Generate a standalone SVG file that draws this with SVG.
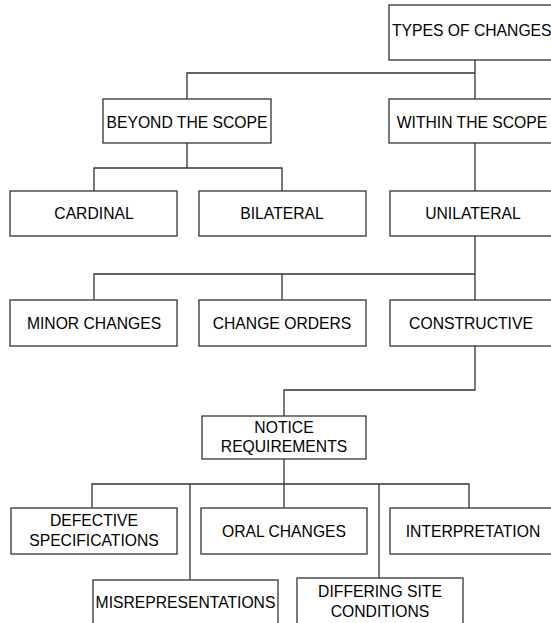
<svg xmlns="http://www.w3.org/2000/svg" width="551" height="623" viewBox="0 0 551 623">
<style>
.box{fill:#fff;stroke:#333;stroke-width:1.3}
.lbl{font-family:"Liberation Sans",Arial,sans-serif;font-size:15.7px;fill:#000;text-anchor:middle}
.conn{fill:none;stroke:#333;stroke-width:1.3}
</style>
<rect width="551" height="623" fill="#fff"/>
<g id="connectors">
<path class="conn" d="M475,60V99M475,73H187V99"/>
<path class="conn" d="M187,143V168M94,191V168H282V191"/>
<path class="conn" d="M475,143V191"/>
<path class="conn" d="M475,236V300M94,300V274H475M282,274V300"/>
<path class="conn" d="M475,346V390H284V416"/>
<path class="conn" d="M284,459V484M92,508V484H469V508M190,484V580M284,484V508M379,484V578"/>
</g>
<g id="n-types"><rect class="box" x="389" y="5" width="175" height="55"/><text class="lbl" x="392" y="36" style="text-anchor:start">TYPES OF CHANGES</text></g>
<g id="n-beyond"><rect class="box" x="103" y="99" width="168" height="44"/><text class="lbl" x="187" y="128">BEYOND THE SCOPE</text></g>
<g id="n-within"><rect class="box" x="389" y="99" width="175" height="44"/><text class="lbl" x="472" y="128">WITHIN THE SCOPE</text></g>
<g id="n-cardinal"><rect class="box" x="10" y="191" width="167" height="45"/><text class="lbl" x="94" y="219">CARDINAL</text></g>
<g id="n-bilateral"><rect class="box" x="199" y="191" width="167" height="45"/><text class="lbl" x="282" y="219">BILATERAL</text></g>
<g id="n-unilateral"><rect class="box" x="390" y="191" width="175" height="45"/><text class="lbl" x="473" y="219">UNILATERAL</text></g>
<g id="n-minor"><rect class="box" x="10" y="300" width="167" height="46"/><text class="lbl" x="94" y="329">MINOR CHANGES</text></g>
<g id="n-orders"><rect class="box" x="199" y="300" width="167" height="46"/><text class="lbl" x="282" y="329">CHANGE ORDERS</text></g>
<g id="n-constructive"><rect class="box" x="390" y="300" width="175" height="46"/><text class="lbl" x="471" y="329">CONSTRUCTIVE</text></g>
<g id="n-notice"><rect class="box" x="202" y="416" width="164" height="43"/><text class="lbl" x="284" y="433">NOTICE</text><text class="lbl" x="284" y="452">REQUIREMENTS</text></g>
<g id="n-defective"><rect class="box" x="11" y="508" width="166" height="46"/><text class="lbl" x="94" y="526">DEFECTIVE</text><text class="lbl" x="94" y="546">SPECIFICATIONS</text></g>
<g id="n-oral"><rect class="box" x="201" y="508" width="166" height="46"/><text class="lbl" x="284" y="537">ORAL CHANGES</text></g>
<g id="n-interp"><rect class="box" x="390" y="508" width="175" height="46"/><text class="lbl" x="473" y="537">INTERPRETATION</text></g>
<g id="n-misrep"><rect class="box" x="93" y="580" width="185" height="60"/><text class="lbl" x="185.5" y="608">MISREPRESENTATIONS</text></g>
<g id="n-differing"><rect class="box" x="297" y="578" width="166" height="60"/><text class="lbl" x="380" y="597">DIFFERING SITE</text><text class="lbl" x="380" y="617">CONDITIONS</text></g>
</svg>
